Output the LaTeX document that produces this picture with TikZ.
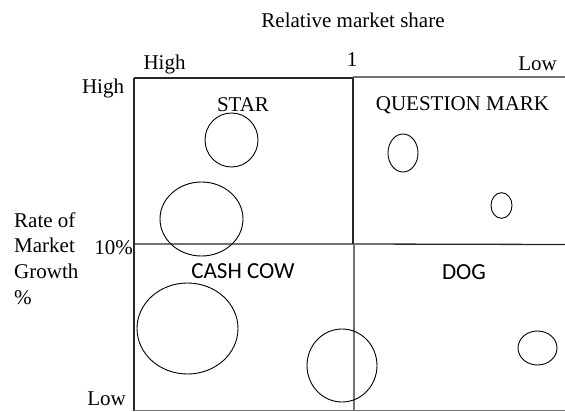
\documentclass[tikz,border=0pt]{standalone}
\usepackage{fontspec}
\setmainfont{Liberation Serif}
\newfontfamily\calib{Carlito}
\begin{document}
\begin{tikzpicture}[x=1pt,y=-1pt,
  serif/.style={font=\fontsize{21}{25.7}\selectfont, inner sep=0pt},
  sanslbl/.style={font=\calib\fontsize{23}{27}\selectfont, inner sep=0pt},
  gridline/.style={line width=1.3pt, black!85},
  grayline/.style={line width=1.3pt, black!55},
  bubble/.style={line width=0.9pt, black}]
\useasboundingbox (0,0) rectangle (565,412);
% grid coordinates
\coordinate (tl) at (134,78);
\coordinate (tm) at (353,78);
\coordinate (tr) at (565,77);
\coordinate (tmr) at (353,77);
\coordinate (ml) at (134,244);
\coordinate (mm) at (353,244);
\coordinate (mr) at (565,244.5);
\coordinate (mmb) at (354,244);
\coordinate (bl) at (134,410.5);
\coordinate (bm) at (354,410.5);
\coordinate (br) at (565,410.5);
% grid lines
\draw[gridline] (tl) -- (tm) -- (mm);
\draw[grayline] (tmr) -- (tr);
\draw[gridline] (tl) -- (bl);
\draw[gridline] (ml) -- (mm) -- (mr);
\draw[grayline] (mmb) -- (bm);
\draw[grayline] (bl) -- (br);
% bubbles
\draw[bubble] (231.5,140) ellipse (26.5 and 27);
\draw[bubble] (201.5,219) ellipse (41.5 and 37);
\draw[bubble] (403,153) ellipse (15 and 19);
\draw[bubble] (501.5,205.5) ellipse (10.5 and 12.8);
\draw[bubble] (187.5,328.5) ellipse (50.5 and 45.5);
\draw[bubble] (342,365.5) ellipse (35 and 36.5);
\draw[bubble] (537.5,348) ellipse (19.5 and 17);
% labels
\node[serif] (title) at (353,20) {Relative market share};
\node[serif] (colhigh) at (164.5,64) {High};
\node[serif] (colone) at (352,60) {1};
\node[serif] (collow) at (537.5,64) {Low};
\node[serif] (rowhigh) at (103,88) {High};
\node[serif] (rowmid) at (113.5,248) {10\%};
\node[serif] (rowlow) at (106.5,399) {Low};
\node[serif, align=left, anchor=west] (ylabel) at (14,258.5) {Rate of\\Market\\Growth\\\%};
\node[serif] (star) at (243,105) {STAR};
\node[serif] (qm) at (462.5,105) {QUESTION MARK};
\node[sanslbl] (cow) at (243,271) {CASH COW};
\node[sanslbl] (dog) at (464,272) {DOG};
\end{tikzpicture}
\end{document}
